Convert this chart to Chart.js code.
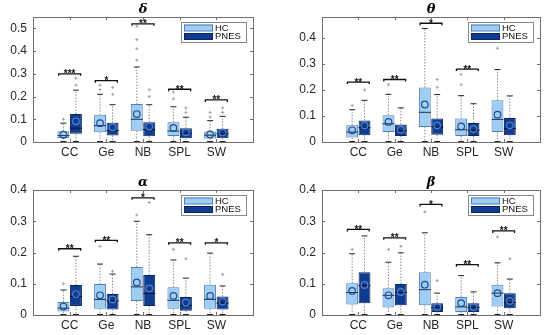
<!DOCTYPE html>
<html>
<head>
<meta charset="utf-8">
<script src="https://cdn.jsdelivr.net/npm/chart.js@4.4.1/dist/chart.umd.min.js"></script>
<style>
  body { margin: 0; background: #fff; width: 550px; height: 335px; overflow: hidden; position: relative; }
  canvas { position: absolute; }
</style>
</head>
<body>
<canvas id="cDelta" width="262" height="165" style="left:0;top:0"></canvas>
<canvas id="cTheta" width="260" height="165" style="left:289px;top:0"></canvas>
<canvas id="cAlpha" width="262" height="165" style="left:0;top:173px"></canvas>
<canvas id="cBeta" width="260" height="165" style="left:289px;top:173px"></canvas>
<script>
const categories = ['CC', 'Ge', 'NB', 'SPL', 'SW'];
const deltaTicks = [0, 0.1, 0.2, 0.3, 0.4, 0.5];
const bandTicks = [0, 0.1, 0.2, 0.3, 0.4];

// each row: [lower whisker, q1, median, q3, upper whisker, mean]
const deltaHC = [
  [0, 0.018, 0.028, 0.047, 0.083, 0.032],
  [0, 0.043, 0.072, 0.120, 0.210, 0.083],
  [0, 0.050, 0.100, 0.167, 0.330, 0.123],
  [0, 0.026, 0.048, 0.087, 0.155, 0.062],
  [0, 0.015, 0.030, 0.046, 0.094, 0.033]
];
const deltaPNES = [
  [0, 0.036, 0.061, 0.123, 0.228, 0.091],
  [0, 0.029, 0.050, 0.085, 0.164, 0.065],
  [0, 0.025, 0.054, 0.087, 0.164, 0.068],
  [0, 0.017, 0.039, 0.061, 0.109, 0.043],
  [0, 0.017, 0.036, 0.058, 0.113, 0.042]
];
const deltaHCOut = [[0.10], [0.23, 0.25], [0.36, 0.41, 0.45, 0.51], [0.19, 0.22], [0.11, 0.13]];
const deltaPNESOut = [[0.25, 0.28], [0.21, 0.24], [0.20, 0.23], [0.13, 0.15], [0.13, 0.15]];
const deltaStars = ['***', '*', '**', '**', '**'];
const deltaStarY = [0.30, 0.27, 0.52, 0.232, 0.185];

const thetaHC = [
  [0, 0.017, 0.038, 0.064, 0.124, 0.045],
  [0, 0.038, 0.070, 0.103, 0.183, 0.077],
  [0, 0.058, 0.114, 0.209, 0.436, 0.144],
  [0, 0.023, 0.047, 0.090, 0.178, 0.060],
  [0, 0.038, 0.087, 0.160, 0.278, 0.105]
];
const thetaPNES = [
  [0, 0.026, 0.055, 0.083, 0.160, 0.064],
  [0, 0.023, 0.043, 0.067, 0.131, 0.047],
  [0, 0.028, 0.058, 0.090, 0.182, 0.064],
  [0, 0.023, 0.045, 0.073, 0.147, 0.050],
  [0, 0.026, 0.052, 0.092, 0.177, 0.064]
];
const thetaHCOut = [[0.14], [0.22], [], [0.22, 0.26], [0.36]];
const thetaPNESOut = [[0.20], [], [0.21, 0.24], [], []];
const thetaStars = ['**', '**', '*', '**', ''];
const thetaStarY = [0.23, 0.24, 0.456, 0.28, null];

const alphaHC = [
  [0, 0.011, 0.022, 0.042, 0.080, 0.027],
  [0, 0.020, 0.050, 0.099, 0.163, 0.063],
  [0, 0.045, 0.090, 0.154, 0.300, 0.104],
  [0, 0.020, 0.047, 0.089, 0.176, 0.061],
  [0, 0.020, 0.050, 0.097, 0.198, 0.061]
];
const alphaPNES = [
  [0, 0.029, 0.059, 0.096, 0.188, 0.067],
  [0, 0.018, 0.045, 0.067, 0.131, 0.050],
  [0, 0.029, 0.069, 0.128, 0.257, 0.085],
  [0, 0.014, 0.031, 0.058, 0.118, 0.040],
  [0, 0.018, 0.038, 0.059, 0.093, 0.043]
];
const alphaHCOut = [[0.10], [0.22], [0.32], [0.21], []];
const alphaPNESOut = [[], [0.14], [0.36], [0.18], [0.13]];
const alphaStars = ['**', '**', '*', '**', '*'];
const alphaStarY = [0.212, 0.239, 0.375, 0.231, 0.231];

const betaHC = [
  [0, 0.034, 0.072, 0.102, 0.196, 0.077],
  [0, 0.024, 0.063, 0.086, 0.169, 0.063],
  [0, 0.031, 0.081, 0.137, 0.263, 0.097],
  [0, 0.010, 0.026, 0.058, 0.126, 0.038],
  [0, 0.027, 0.070, 0.097, 0.167, 0.070]
];
const betaPNES = [
  [0, 0.038, 0.094, 0.137, 0.253, 0.096],
  [0, 0.031, 0.072, 0.099, 0.199, 0.074],
  [0, 0.010, 0.024, 0.038, 0.070, 0.026],
  [0, 0.010, 0.024, 0.038, 0.074, 0.026],
  [0, 0.022, 0.040, 0.070, 0.115, 0.045]
];
const betaHCOut = [[0.21], [0.21], [0.33], [], [0.25]];
const betaPNESOut = [[], [0.22], [0.11], [], [0.18]];
const betaStars = ['**', '**', '*', '**', '**'];
const betaStarY = [0.274, 0.247, 0.354, 0.161, 0.269];

const SANS = '"Liberation Sans", Arial, sans-serif';
const FRAME = '#707070';

// whiskers, medians, means, outliers, brackets, legend, frame and title
const boxDecor = {
  id: 'boxDecor',
  afterDatasetsDraw(chart, args, opts) {
    const { ctx, chartArea: a, scales: { x, y } } = chart;
    ctx.save();
    const line = (x1, y1, x2, y2) => { ctx.beginPath(); ctx.moveTo(x1, y1); ctx.lineTo(x2, y2); ctx.stroke(); };

    chart.data.datasets.forEach((ds, d) => {
      chart.getDatasetMeta(d).data.forEach((bar, i) => {
        const [lo, q1, med, q3, hi, mean] = ds.stats[i];
        const cx = bar.x, w = bar.width;
        ctx.lineWidth = 1;
        ctx.strokeStyle = '#8e8e8e';
        ctx.setLineDash([1.5, 1.5]);
        line(cx, y.getPixelForValue(q3), cx, y.getPixelForValue(hi));
        line(cx, y.getPixelForValue(q1), cx, y.getPixelForValue(lo));
        ctx.setLineDash([]);
        ctx.strokeStyle = '#222';
        line(cx - w * 0.25, y.getPixelForValue(hi), cx + w * 0.25, y.getPixelForValue(hi));
        line(cx - w * 0.25, y.getPixelForValue(lo) - 0.5, cx + w * 0.25, y.getPixelForValue(lo) - 0.5);
        ctx.strokeStyle = ds.medianColor;
        line(cx - w / 2, y.getPixelForValue(med), cx + w / 2, y.getPixelForValue(med));
        ctx.strokeStyle = ds.meanColor;
        ctx.lineWidth = 1.2;
        ctx.beginPath();
        ctx.arc(cx, y.getPixelForValue(mean), 3.3, 0, Math.PI * 2);
        ctx.stroke();
        ctx.strokeStyle = '#a0a0a0';
        ctx.lineWidth = 1;
        ds.outliers[i].forEach(v => {
          const py = y.getPixelForValue(v);
          line(cx - 1.5, py, cx + 1.5, py);
          line(cx, py - 1.5, cx, py + 1.5);
        });
      });
    });

    // significance brackets
    ctx.strokeStyle = '#111';
    ctx.fillStyle = '#111';
    ctx.lineWidth = 1.3;
    ctx.font = 'bold 10px ' + SANS;
    ctx.textAlign = 'center';
    ctx.textBaseline = 'alphabetic';
    opts.stars.forEach((s, i) => {
      if (!s) return;
      const py = y.getPixelForValue(opts.starY[i]);
      const x1 = x.getPixelForValue(i + 1 - 0.3), x2 = x.getPixelForValue(i + 1 + 0.3);
      ctx.beginPath();
      ctx.moveTo(x1, py + 2); ctx.lineTo(x1, py); ctx.lineTo(x2, py); ctx.lineTo(x2, py + 2);
      ctx.stroke();
      ctx.fillText(s, (x1 + x2) / 2, py + 3.5);
    });

    // legend
    const lw = 65, lh = 20;
    const lx = a.right - 7 - lw, ly = a.top + 5;
    ctx.fillStyle = '#fff';
    ctx.fillRect(lx, ly, lw, lh);
    ctx.strokeStyle = '#888';
    ctx.lineWidth = 1;
    ctx.strokeRect(lx + 0.5, ly + 0.5, lw, lh);
    ctx.font = '9.5px ' + SANS;
    ctx.textAlign = 'left';
    ctx.textBaseline = 'middle';
    chart.data.datasets.forEach((ds, d) => {
      const sy = ly + 2.5 + d * 8.5;
      ctx.fillStyle = ds.backgroundColor;
      ctx.fillRect(lx + 3, sy, 29, 6.5);
      ctx.strokeStyle = ds.borderColor;
      ctx.strokeRect(lx + 3.5, sy + 0.5, 28, 6);
      ctx.fillStyle = '#111';
      ctx.fillText(ds.label, lx + 34, sy + 3.6);
    });

    // axes box with inward ticks
    ctx.strokeStyle = FRAME;
    ctx.lineWidth = 1;
    ctx.strokeRect(Math.round(a.left) + 0.5, Math.round(a.top) + 0.5, Math.round(a.width), Math.round(a.height));
    y.ticks.forEach(t => {
      const py = Math.round(y.getPixelForValue(t.value)) + 0.5;
      line(a.left, py, a.left + 3, py);
      line(a.right - 3, py, a.right, py);
    });
    x.ticks.forEach(t => {
      const px = Math.round(x.getPixelForValue(t.value)) + 0.5;
      line(px, a.bottom, px, a.bottom - 3);
      line(px, a.top, px, a.top + 3);
    });

    // title
    ctx.fillStyle = '#000';
    ctx.font = 'italic bold 13px "DejaVu Serif", serif';
    ctx.textAlign = 'center';
    ctx.textBaseline = 'middle';
    ctx.fillText(opts.title, (a.left + a.right) / 2, 9.5);
    ctx.restore();
  }
};

function makeChart(id, title, yMax, yTicks, hc, pnes, hcOut, pnesOut, stars, starY) {
  const toBars = rows => rows.map((r, i) => ({ x: i + 1, y: [r[1], r[3]] }));
  const tickFont = { family: SANS, size: 12 };
  return new Chart(document.getElementById(id), {
    type: 'bar',
    data: {
      datasets: [
        { label: 'HC', data: toBars(hc), stats: hc, outliers: hcOut,
          backgroundColor: '#a0cdf3', borderColor: '#4f7fb5', borderWidth: 1, borderSkipped: false,
          medianColor: '#1b2f4a', meanColor: '#1f4f8e' },
        { label: 'PNES', data: toBars(pnes), stats: pnes, outliers: pnesOut,
          backgroundColor: '#0f3c8e', borderColor: '#0a2660', borderWidth: 1, borderSkipped: false,
          medianColor: '#0a0f22', meanColor: '#4f82cf' }
      ]
    },
    options: {
      responsive: false,
      animation: false,
      events: [],
      layout: { padding: { top: 17, right: 9, left: 0, bottom: 0 } },
      datasets: { bar: { barPercentage: 0.96, categoryPercentage: 0.68 } },
      plugins: {
        legend: { display: false },
        tooltip: { enabled: false },
        boxDecor: { title: title, stars: stars, starY: starY }
      },
      scales: {
        x: {
          type: 'linear', min: 0, max: 6, offset: false,
          afterBuildTicks: s => { s.ticks = categories.map((c, i) => ({ value: i + 1 })); },
          ticks: { callback: v => categories[v - 1] || '', autoSkip: false, maxRotation: 0,
                   padding: 3, font: tickFont, color: '#262626' },
          grid: { display: false, drawTicks: false },
          border: { display: false },
          afterFit: s => { s.height = 23; }
        },
        y: {
          min: 0, max: yMax,
          afterBuildTicks: s => { s.ticks = yTicks.map(v => ({ value: v })); },
          ticks: { callback: v => v === 0 ? '0' : v.toFixed(1), padding: 6, font: tickFont, color: '#262626' },
          grid: { display: false, drawTicks: false },
          border: { display: false },
          afterFit: s => { s.width = 33; }
        }
      }
    },
    plugins: [boxDecor]
  });
}

makeChart('cDelta', 'δ', 0.55, deltaTicks, deltaHC, deltaPNES, deltaHCOut, deltaPNESOut, deltaStars, deltaStarY);
makeChart('cTheta', 'θ', 0.48, bandTicks, thetaHC, thetaPNES, thetaHCOut, thetaPNESOut, thetaStars, thetaStarY);
makeChart('cAlpha', 'α', 0.40, bandTicks, alphaHC, alphaPNES, alphaHCOut, alphaPNESOut, alphaStars, alphaStarY);
makeChart('cBeta', 'β', 0.40, bandTicks, betaHC, betaPNES, betaHCOut, betaPNESOut, betaStars, betaStarY);
</script>
</body>
</html>
